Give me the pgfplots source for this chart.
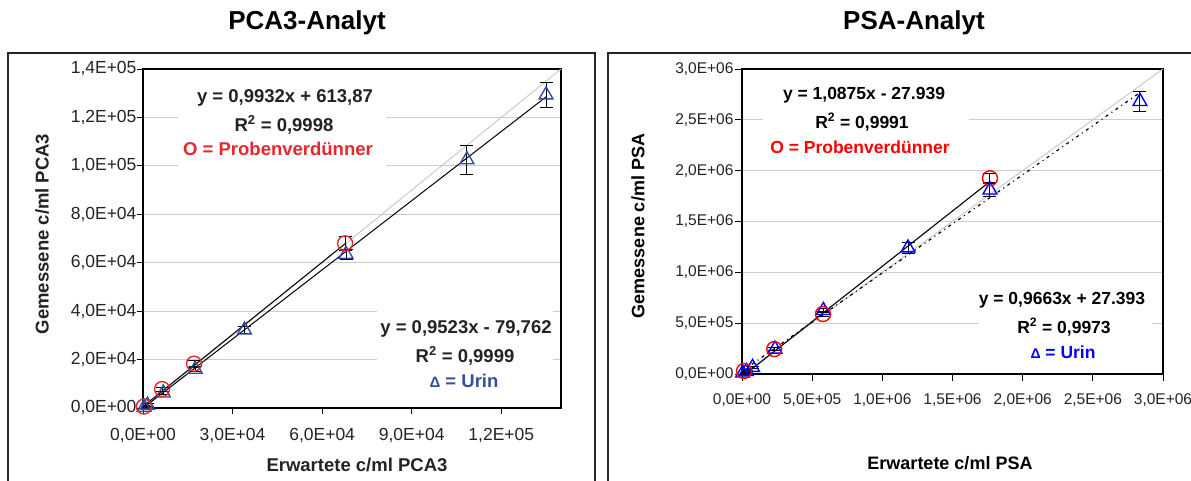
\documentclass[border=0pt]{standalone}
\usepackage{pgfplots}
\pgfplotsset{compat=1.18}
\usepackage{fontspec}
\setmainfont{Liberation Sans}
\definecolor{lblue}{RGB}{55,78,160}
\definecolor{lred}{RGB}{232,38,43}
\definecolor{txt}{RGB}{35,35,35}
\pgfplotsset{myerr/.style={error bars/.cd, y dir=both, y explicit,
  error bar style={black, line width=1pt},
  error mark options={black, mark size=6.5pt, line width=1pt, rotate=90}}}
\begin{document}
\begin{tikzpicture}[x=1pt,y=1pt]
\useasboundingbox (0,0) rectangle (1191,481);
\draw[line width=1.4pt, black!85] (8,428) rectangle (595,-5);
\draw[line width=1.4pt, black!85] (608,428) rectangle (1200,-5);
% ---------------- left
\begin{axis}[at={(143pt,73pt)}, anchor=south west, scale only axis,
  width=418pt, height=339pt,
  xmin=0, xmax=140000, ymin=0, ymax=140000,
  scaled ticks=false,
  xtick={0,30000,60000,90000,120000},
  xticklabels={{0,0E+00},{3,0E+04},{6,0E+04},{9,0E+04},{1,2E+05}},
  ytick={0,20000,40000,60000,80000,100000,120000,140000},
  yticklabels={{0,0E+00},{2,0E+04},{4,0E+04},{6,0E+04},{8,0E+04},{1,0E+05},{1,2E+05},{1,4E+05}},
  ticklabel style={font=\fontsize{17.5}{20}\selectfont, text=txt},
  xticklabel style={yshift=-11pt},
  yticklabel style={xshift=3pt},
  xtick pos=bottom, ytick pos=left, tick align=outside,
  major tick length=6pt, tick style={black, line width=0.9pt},
  ymajorgrids, grid style={gray!40, line width=0.9pt},
  axis line style={black, line width=1.4pt},
]
\addplot[gray!45, line width=0.9pt] coordinates {(0,0) (140000,140000)};
\addplot[black, line width=1pt] coordinates {(0,613.87) (68000,68151.47)};
\addplot[black, line width=1pt] coordinates {(0,-79.762) (135000,128480.7)};
\addplot[only marks, mark=triangle, mark size=8pt, color=lblue, mark options={line width=1.4pt}, myerr]
  table[x=x, y=y, y error=e] {
x y e
400 300 400
1500 1200 500
6800 6200 800
17500 16000 1000
34000 32200 1500
68000 63500 2000
108500 102500 6000
135000 129300 5300
};
\addplot[only marks, mark=o, mark size=7.5pt, color=lred, mark options={line width=1.4pt}, myerr]
  table[x=x, y=y, y error=e] {
x y e
300 600 300
6400 7800 800
17100 18300 1500
67700 68000 3000
};
\end{axis}
% ---------------- right
\begin{axis}[at={(742pt,107pt)}, anchor=south west, scale only axis,
  width=421pt, height=305pt,
  xmin=0, xmax=3000000, ymin=0, ymax=3000000,
  scaled ticks=false,
  xtick={0,500000,1000000,1500000,2000000,2500000,3000000},
  xticklabels={{0,0E+00},{5,0E+05},{1,0E+06},{1,5E+06},{2,0E+06},{2,5E+06},{3,0E+06}},
  ytick={0,500000,1000000,1500000,2000000,2500000,3000000},
  yticklabels={{0,0E+00},{5,0E+05},{1,0E+06},{1,5E+06},{2,0E+06},{2,5E+06},{3,0E+06}},
  ticklabel style={font=\fontsize{15.5}{18}\selectfont, text=txt},
  xticklabel style={yshift=-9pt},
  yticklabel style={xshift=2pt},
  xtick pos=bottom, ytick pos=left, tick align=outside,
  major tick length=7pt, tick style={black, line width=0.9pt},
  ymajorgrids, grid style={gray!40, line width=0.9pt},
  axis line style={black, line width=1.4pt},
]
\addplot[gray!45, line width=0.9pt] coordinates {(0,0) (3000000,3000000)};
\addplot[black, line width=1.1pt] coordinates {(0,-27939) (1767000,1893674)};
\addplot[black, line width=1.2pt, dash pattern=on 3pt off 4pt on 1pt off 4pt] coordinates {(0,27393) (2836000,2767820)};
\addplot[only marks, mark=triangle, mark size=8pt, color=blue, mark options={line width=1.4pt}, myerr]
  table[x=x, y=y, y error=e] {
x y e
5000 10000 10000
30000 25000 10000
75000 65000 10000
235000 245000 15000
580000 625000 20000
1183000 1240000 50000
1767000 1810000 60000
2836000 2680000 95000
};
\addplot[only marks, mark=o, mark size=7.5pt, color=red, mark options={line width=1.4pt}, myerr]
  table[x=x, y=y, y error=e] {
x y e
15000 30000 10000
230000 245000 15000
577000 590000 20000
1767000 1925000 45000
};
\end{axis}
% white boxes over grid
\fill[white] (178,306) rectangle (386,401);
\fill[white] (377,86) rectangle (553,181);
\fill[white] (763,316) rectangle (969,406);
\fill[white] (978,110) rectangle (1152,196);
% titles
\node[font=\bfseries\fontsize{26}{30}\selectfont, text=black] at (307,458) {PCA3-Analyt};
\node[font=\bfseries\fontsize{26}{30}\selectfont, text=black] at (914,458) {PSA-Analyt};
% axis labels
\node[font=\bfseries\fontsize{18.5}{22}\selectfont, text=txt] at (357,16) {Erwartete c/ml PCA3};
\node[font=\bfseries\fontsize{18.5}{22}\selectfont, text=txt, rotate=90] at (42,247) {Gemessene c/ml PCA3};
\node[font=\bfseries\fontsize{18}{22}\selectfont, text=black] at (950,18) {Erwartete c/ml PSA};
\node[font=\bfseries\fontsize{18}{22}\selectfont, text=black, rotate=90] at (638,255) {Gemessene c/ml PSA};
% annotations left
\node[font=\bfseries\fontsize{18.5}{22}\selectfont, text=txt] at (285,383) {y = 0,9932x + 613,87};
\node[font=\bfseries\fontsize{18.5}{22}\selectfont, text=txt] at (284,356) {R\textsuperscript{2} = 0,9998};
\node[font=\bfseries\fontsize{18.5}{22}\selectfont, text=lred] at (278,332) {O = Probenverdünner};
\node[font=\bfseries\fontsize{18.5}{22}\selectfont, text=txt] at (466,152) {y = 0,9523x - 79,762};
\node[font=\bfseries\fontsize{18.5}{22}\selectfont, text=txt] at (465,125) {R\textsuperscript{2} = 0,9999};
\node[font=\bfseries\fontsize{18.5}{22}\selectfont, text=lblue] at (464,100) {{\fontsize{15}{18}\selectfont Δ} = Urin};
% annotations right
\node[font=\bfseries\fontsize{17.5}{21}\selectfont, text=black] at (864,386) {y = 1,0875x - 27.939};
\node[font=\bfseries\fontsize{17.5}{21}\selectfont, text=black] at (862,359) {R\textsuperscript{2} = 0,9991};
\node[font=\bfseries\fontsize{17.5}{21}\selectfont, text=red] at (860,334) {O = Probenverdünner};
\node[font=\bfseries\fontsize{17.5}{21}\selectfont, text=black] at (1062,181) {y = 0,9663x + 27.393};
\node[font=\bfseries\fontsize{17.5}{21}\selectfont, text=black] at (1064,154) {R\textsuperscript{2} = 0,9973};
\node[font=\bfseries\fontsize{17.5}{21}\selectfont, text=blue] at (1063,129) {{\fontsize{14}{17}\selectfont Δ} = Urin};
\end{tikzpicture}
\end{document}
